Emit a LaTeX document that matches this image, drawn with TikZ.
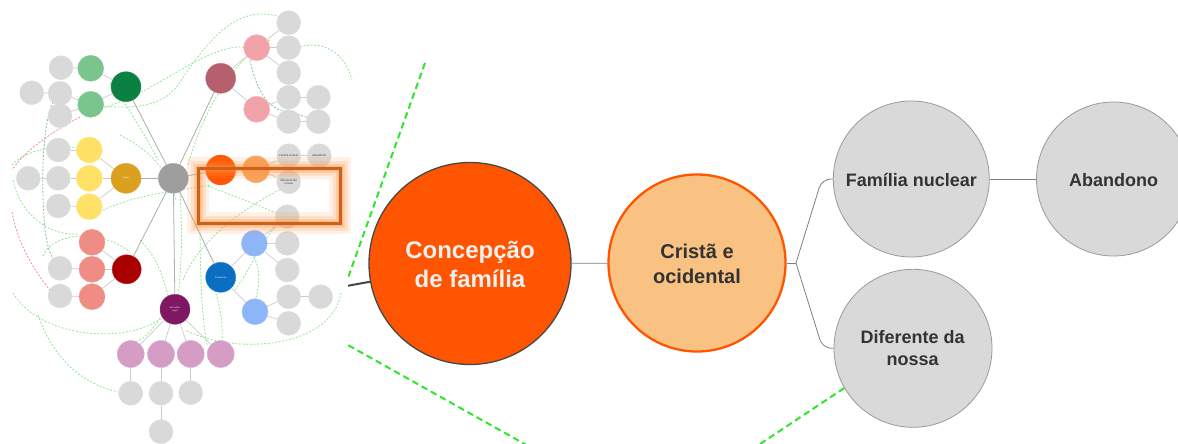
\documentclass[tikz,border=0pt]{standalone}
\usepackage{fontspec}
\setmainfont{Liberation Sans}
\usetikzlibrary{calc}
\definecolor{cOrR}{HTML}{FF5500}
\definecolor{cCris}{HTML}{F9C283}
\definecolor{cGray}{HTML}{D9D9D9}
\definecolor{cGrayLn}{HTML}{9A9A9A}
\definecolor{cTxt}{HTML}{333333}
\definecolor{cGreenD}{HTML}{2EE62E}
\definecolor{cMmDash}{HTML}{92EA92}
\definecolor{cTeal}{HTML}{7CC29E}
\definecolor{cRedD}{HTML}{F29090}
\definecolor{cCenter}{HTML}{9E9E9E}
\definecolor{cDGreen}{HTML}{0B8043}
\definecolor{cLGreen}{HTML}{7AC58E}
\definecolor{cMaroon}{HTML}{B5606C}
\definecolor{cPink}{HTML}{F2A3AA}
\definecolor{cLOrange}{HTML}{F8A65E}
\definecolor{cGold}{HTML}{DCA020}
\definecolor{cYellow}{HTML}{FFE168}
\definecolor{cDRed}{HTML}{A90000}
\definecolor{cSalmon}{HTML}{EF8C83}
\definecolor{cBlue}{HTML}{0A6EC2}
\definecolor{cLBlue}{HTML}{8DB5F8}
\definecolor{cPurple}{HTML}{7E1862}
\definecolor{cLPurple}{HTML}{D59DC5}
\definecolor{cFrame}{HTML}{C9621C}
\definecolor{cGlow}{HTML}{FF9240}
\tikzset{
  bigtxt/.style={font=\fontsize{24}{29}\selectfont\bfseries, text=white!94!black, anchor=base, inner sep=0pt},
  midtxt/.style={font=\fontsize{20}{25}\selectfont\bfseries, text=cTxt, anchor=base, inner sep=0pt},
  smtxt/.style={font=\fontsize{18}{22}\selectfont\bfseries, text=cTxt, anchor=base, inner sep=0pt},
  circ/.style={circle, inner sep=0pt, minimum size=#1},
  graynode/.style={circ=#1, fill=cGray, draw=cGrayLn, line width=0.8pt},
  tree/.style={draw=black!50, line width=0.8pt},
  gdash/.style={draw=cGreenD, line width=2pt, dash pattern=on 6.5pt off 4pt},
  mmdash/.style={draw=cMmDash, line width=0.8pt, dash pattern=on 2pt off 1.6pt},
  mmedge/.style={draw=black!20, line width=0.7pt},
  mmmain/.style={draw=black!32, line width=0.8pt},
  mm/.style 2 args={circle, inner sep=0pt, minimum size=#1, fill=#2, draw=#2!85!white, line width=0.4pt},
  mmtxt/.style={font=\fontsize{3}{3.4}\selectfont, align=center, inner sep=0pt, text=black!75},
  mmwtxt/.style={font=\fontsize{2.2}{2.6}\selectfont, align=center, inner sep=0pt, text=white},
}
\begin{document}
\begin{tikzpicture}[x=1pt,y=-1pt]
\useasboundingbox (0,0) rectangle (1178,444);
\clip (0,0) rectangle (1178,444);
\fill[white] (0,0) rectangle (1178,444);

% ---------- main view ----------
\coordinate (d1a) at (425,63);
\coordinate (d1b) at (340,300);
\coordinate (d2a) at (330,335);
\coordinate (d2b) at (530,447);
\draw[gdash] (d1a) -- (d1b);
\draw[gdash] (d2a) -- (d2b);

\node[circ=202pt, fill=cOrR, draw=black!72, line width=1.3pt] (conc) at (470,263.5) {};
\node[circ=177pt, fill=cCris, draw=cOrR, line width=2.3pt] (crist) at (697,263) {};
\node[graynode=156pt] (fam) at (911.3,179) {};
\node[graynode=154pt] (aban) at (1113.5,179) {};
\node[graynode=158pt] (dif) at (913,348.3) {};

\coordinate (lin) at (300,294.5);
\draw[draw=black!72, line width=2pt] (conc) -- (lin);

\node[bigtxt] (concT1) at (470,258) {Concepção};
\node[bigtxt] (concT2) at (470,287) {de família};
\node[midtxt] (cristT1) at (697,258.3) {Cristã e};
\node[midtxt] (cristT2) at (697,283.3) {ocidental};
\node[smtxt] (famT) at (911.3,186) {Família nuclear};
\node[smtxt] (abanT) at (1113.5,186) {Abandono};
\node[smtxt] (difT1) at (912.7,343.3) {Diferente da};
\node[smtxt] (difT2) at (912.7,365.7) {nossa};

\draw[tree] (conc) -- (crist);
\coordinate (jn) at (796,263);
\draw[tree] (crist.east) -- (jn);
\draw[tree, rounded corners=9pt] (jn) -- ($(fam.west)+(-11,0)$) -- (fam.west);
\draw[tree, rounded corners=9pt] (jn) -- ($(dif.west)+(-11,0)$) -- (dif.west);
\draw[tree] (fam) -- (aban);

\coordinate (d3b) at (751,450);
\draw[gdash] (dif.210) -- (d3b);

% ---------- minimap panel ----------
\fill[white] (0,0) rectangle (348,444);

% dashed cross links
\draw[mmdash] (280,17) .. controls (235,2) and (205,45) .. (178,85) .. controls (160,110) and (125,108) .. (103,106);
\draw[mmdash] (244,47) .. controls (205,45) and (160,90) .. (104,108);
\draw[mmdash] (270,40) .. controls (230,60) and (200,120) .. (188,165);
\draw[mmdash] (300,47) .. controls (322,40) and (345,52) .. (352,80);
\draw[mmdash] (341,293) .. controls (332,348) and (235,356) .. (185,330);
\draw[mmdash] (13,293) .. controls (40,338) and (125,345) .. (162,318);
\draw[mmdash] (38,315) .. controls (55,365) and (90,386) .. (118,392);
\draw[mmdash] (12,165) .. controls (25,150) and (55,145) .. (77,148);
\draw[mmdash] (43,256) .. controls (50,236) and (95,225) .. (130,252);
\draw[mmdash] (103,210) .. controls (140,193) and (185,190) .. (210,185);
\draw[mmdash] (199,185) .. controls (201,250) and (199,300) .. (207,345);
\draw[mmdash] (254,257) .. controls (261,270) and (259,285) .. (256,298);
\draw[mmdash] (215,290) .. controls (220,305) and (223,325) .. (222,341);
\draw[mmdash] (208,186) .. controls (230,195) and (260,205) .. (280,215);
\draw[mmdash] (283,188) .. controls (255,202) and (230,220) .. (215,235) .. controls (200,250) and (190,262) .. (183,280);
\draw[mmdash] (110,83) .. controls (130,110) and (145,135) .. (158,160);
\draw[mmdash] (120,135) .. controls (150,150) and (168,170) .. (176,200);
\draw[mmdash] (180,192) .. controls (183,240) and (181,270) .. (178,296);
\draw[mmdash] (13,180) .. controls (20,215) and (50,236) .. (78,234);
\draw[mmdash] (140,240) .. controls (160,260) and (165,285) .. (168,296);
\draw[mmdash] (160,318) .. controls (150,335) and (135,345) .. (131,341);
\draw[mmdash] (235,290) .. controls (250,270) and (262,240) .. (275,228);
\draw[draw=cTeal, line width=0.8pt, dash pattern=on 2pt off 1.6pt] (250,60) .. controls (255,85) and (265,105) .. (280,110) .. controls (295,112) and (305,118) .. (318,120);
\draw[draw=cTeal, line width=0.8pt, dash pattern=on 2pt off 1.6pt] (53,102) .. controls (40,130) and (42,200) .. (45,230) .. controls (47,245) and (50,255) .. (55,262);
\draw[draw=cRedD, line width=0.8pt, dash pattern=on 2pt off 1.6pt] (80,117) .. controls (55,130) and (25,150) .. (12,170);
\draw[draw=cRedD, line width=0.8pt, dash pattern=on 2pt off 1.6pt] (12,212) .. controls (18,245) and (35,272) .. (50,290);

% main nodes
\node[mm={30pt}{cCenter}] (m0) at (173.3,178.3) {};
\node[mm={30pt}{cDGreen}] (mGr) at (126,86.7) {};
\node[mm={30pt}{cMaroon}] (mMa) at (220.7,78.3) {};
\node[mm={30pt}{cOrR}] (mOr) at (220.7,170) {};
\node[mm={30pt}{cGold}] (mGo) at (126,178.3) {};
\node[mm={29pt}{cDRed}] (mRd) at (126.7,269.3) {};
\node[mm={30pt}{cBlue}] (mBl) at (220.7,277.3) {};
\node[mm={30pt}{cPurple}] (mPu) at (175,309.3) {};

% green branch
\node[mm={26pt}{cLGreen}] (g1) at (90.7,68.3) {};
\node[mm={26pt}{cLGreen}] (g2) at (90.7,104.3) {};
\node[mm={24pt}{cGray}] (g1a) at (61,67.7) {};
\node[mm={24pt}{cGray}] (g2a) at (60,93.3) {};
\node[mm={24pt}{cGray}] (g2b) at (60,115.7) {};
\node[mm={24pt}{cGray}] (g2aa) at (31.7,92.7) {};
% yellow branch
\node[mm={26pt}{cYellow}] (y1) at (89.3,150) {};
\node[mm={26pt}{cYellow}] (y2) at (89.3,178.3) {};
\node[mm={26pt}{cYellow}] (y3) at (89.3,206.7) {};
\node[mm={24pt}{cGray}] (y1a) at (58.3,150) {};
\node[mm={24pt}{cGray}] (y2a) at (58.3,178.3) {};
\node[mm={24pt}{cGray}] (y3a) at (58.3,206) {};
\node[mm={24pt}{cGray}] (y2aa) at (28.3,178.3) {};
% red branch
\node[mm={26pt}{cSalmon}] (r1) at (92,242.3) {};
\node[mm={26pt}{cSalmon}] (r2) at (92,269.3) {};
\node[mm={26pt}{cSalmon}] (r3) at (92,296.7) {};
\node[mm={24pt}{cGray}] (r2a) at (60,268.3) {};
\node[mm={24pt}{cGray}] (r3a) at (60,296) {};
% maroon branch
\node[mm={26pt}{cPink}] (p1) at (256.7,47.7) {};
\node[mm={26pt}{cPink}] (p2) at (256.7,109.3) {};
\node[mm={24pt}{cGray}] (p1a) at (288.7,22.7) {};
\node[mm={24pt}{cGray}] (p1b) at (288.7,47.7) {};
\node[mm={24pt}{cGray}] (p1c) at (288.7,72.7) {};
\node[mm={24pt}{cGray}] (p2a) at (288.7,97.3) {};
\node[mm={24pt}{cGray}] (p2b) at (288.7,121.7) {};
\node[mm={24pt}{cGray}] (p2aa) at (318.3,97.3) {};
\node[mm={24pt}{cGray}] (p2bb) at (318.3,121.7) {};
% orange branch
\node[mm={27pt}{cLOrange}] (o1) at (256,169.3) {};
\node[mm={24pt}{cGray}] (o1a) at (288.7,155.7) {};
\node[mm={24pt}{cGray}] (o1aa) at (319.3,155.7) {};
\node[mm={24pt}{cGray}] (o1b) at (288.7,181.7) {};
% blue branch
\node[mm={26pt}{cLBlue}] (b1) at (254.3,243.3) {};
\node[mm={26pt}{cLBlue}] (b2) at (255,311.7) {};
\node[mm={24pt}{cGray}] (b1a) at (287.3,216.7) {};
\node[mm={24pt}{cGray}] (b1b) at (287.3,243.3) {};
\node[mm={24pt}{cGray}] (b1c) at (287.3,270) {};
\node[mm={24pt}{cGray}] (b2a) at (288.7,296.7) {};
\node[mm={24pt}{cGray}] (b2aa) at (320.7,296.7) {};
\node[mm={24pt}{cGray}] (b2b) at (288.7,323.3) {};
% purple branch
\node[mm={27pt}{cLPurple}] (u1) at (130.7,354) {};
\node[mm={27pt}{cLPurple}] (u2) at (161,354) {};
\node[mm={27pt}{cLPurple}] (u3) at (190.7,354) {};
\node[mm={27pt}{cLPurple}] (u4) at (220.7,354) {};
\node[mm={24pt}{cGray}] (u1a) at (130.7,393.3) {};
\node[mm={24pt}{cGray}] (u2a) at (161,393.3) {};
\node[mm={24pt}{cGray}] (u3a) at (190.7,392.7) {};
\node[mm={24pt}{cGray}] (u2aa) at (161,431.7) {};

% minimap edges
\foreach \t in {mGr,mMa,mOr,mGo,mRd,mBl,mPu} \draw[mmmain] (m0) -- (\t);
\foreach \a/\b in {mGr/g1,mGr/g2,g1/g1a,g2/g2a,g2/g2b,g2a/g2aa,
  mGo/y1,mGo/y2,mGo/y3,y1/y1a,y2/y2a,y3/y3a,y2a/y2aa,
  mRd/r1,mRd/r2,mRd/r3,r2/r2a,r3/r3a,
  mMa/p1,mMa/p2,p1/p1a,p1/p1b,p1/p1c,p2/p2a,p2/p2b,p2a/p2aa,p2b/p2bb,
  mOr/o1,o1/o1a,o1/o1b,o1a/o1aa,
  mBl/b1,mBl/b2,b1/b1a,b1/b1b,b1/b1c,b2/b2a,b2/b2b,b2a/b2aa,
  mPu/u1,mPu/u2,mPu/u3,mPu/u4,u1/u1a,u2/u2a,u3/u3a,u2a/u2aa}
  \draw[mmedge] (\a) -- (\b);

% minimap labels that can be read
\node[mmwtxt] (mGoT) at (mGo) {Igreja};
\node[mmwtxt] (mBlT) at (mBl) {Casamento};
\node[mmwtxt] (mPuT) at (mPu) {Ser mulher\\negra};
\node[mmwtxt, font=\fontsize{1.9}{2.2}\selectfont] (mOrT) at (mOr) {Concepção de família};
\node[mmtxt, font=\fontsize{1.8}{2.1}\selectfont] (o1T) at (o1) {Cristã e ocidental};
\node[mmtxt, font=\fontsize{2.8}{3.2}\selectfont] (o1aT) at (o1a) {Família nuclear};
\node[mmtxt] (o1aaT) at (o1aa) {Abandono};
\node[mmtxt] (o1bT) at (o1b) {Diferente da\\nossa};

% highlight frame
\coordinate (hb1) at (198.3,168.3);
\coordinate (hb2) at (340,223.3);
\draw[cGlow, line width=22pt, opacity=0.12] (hb1) rectangle (hb2);
\draw[cGlow, line width=15pt, opacity=0.18] (hb1) rectangle (hb2);
\draw[cGlow, line width=9pt, opacity=0.25] (hb1) rectangle (hb2);
\draw[cGlow, line width=5pt, opacity=0.35] (hb1) rectangle (hb2);
\draw[cFrame, line width=3pt] (hb1) rectangle (hb2);
\end{tikzpicture}
\end{document}
